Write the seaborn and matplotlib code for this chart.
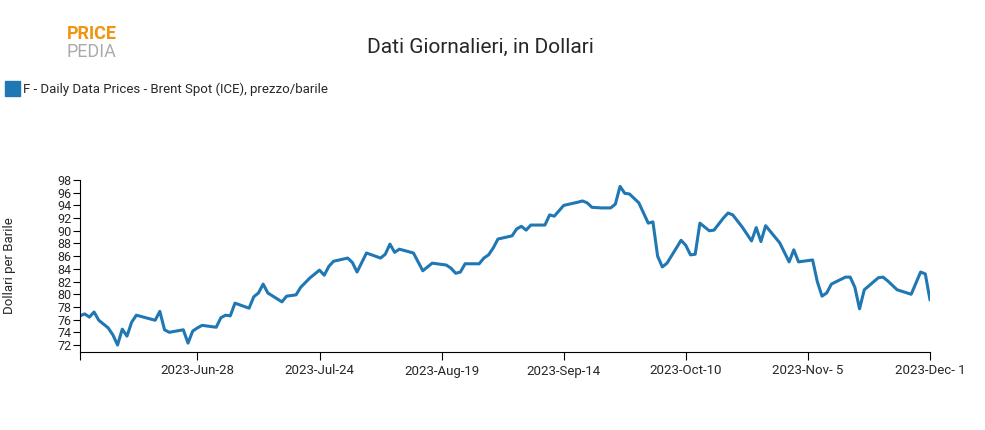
import matplotlib
matplotlib.use("Agg")
import matplotlib.pyplot as plt
import seaborn as sns
import pandas as pd

start_date = "2023-06-03"
day_offsets = [0, 1, 2, 3, 4, 6, 7, 8, 9, 10, 11, 12, 16, 17, 18, 19, 22, 23, 24, 25, 26, 29, 30, 31, 32, 33,
               36, 37, 38, 39, 40, 43, 44, 46, 47, 49, 51, 52, 53, 54, 57, 58, 59, 60, 61, 64, 65, 66, 67, 68,
               71, 72, 73, 75, 78, 79, 80, 81, 82, 85, 86, 87, 88, 89, 92, 93, 94, 95, 96, 99, 100, 101, 103,
               106, 107, 108, 109, 111, 113, 114, 115, 116, 117, 119, 121, 122, 123, 124, 125, 128, 129, 130,
               131, 132, 134, 135, 137, 138, 139, 141, 143, 144, 145, 146, 149, 151, 152, 153, 156, 157, 158,
               159, 160, 163, 164, 165, 166, 167, 170, 171, 172, 174, 177, 179, 180, 181]
prices = [76.6, 76.9, 76.4, 77.2, 75.9, 74.7, 73.6, 72.0, 74.5, 73.4, 75.6, 76.7, 75.9, 77.3, 74.4, 74.0, 74.4,
          72.3, 74.2, 74.7, 75.1, 74.8, 76.3, 76.7, 76.6, 78.6, 77.8, 79.6, 80.2, 81.6, 80.2, 78.8, 79.7,
          79.9, 81.1, 82.6, 83.8, 83.0, 84.4, 85.2, 85.7, 85.0, 83.5, 85.0, 86.5, 85.7, 86.3, 87.9, 86.6,
          87.1, 86.5, 85.1, 83.7, 84.9, 84.6, 84.1, 83.3, 83.5, 84.8, 84.8, 85.7, 86.2, 87.3, 88.7, 89.2,
          90.3, 90.7, 90.1, 90.9, 90.9, 92.5, 92.3, 94.0, 94.5, 94.7, 94.4, 93.7, 93.6, 93.6, 94.2, 97.0,
          95.9, 95.8, 94.4, 91.2, 91.4, 86.0, 84.3, 84.9, 88.5, 87.7, 86.2, 86.3, 91.2, 90.0, 90.1, 92.0,
          92.8, 92.5, 90.6, 88.4, 90.5, 88.3, 90.8, 88.1, 85.1, 87.0, 85.1, 85.4, 82.0, 79.7, 80.2, 81.6,
          82.7, 82.7, 81.1, 77.7, 80.7, 82.6, 82.7, 82.1, 80.7, 80.0, 83.5, 83.2, 79.1]
tick_dates = ["2023-06-03", "2023-06-28", "2023-07-24", "2023-08-19", "2023-09-14", "2023-10-10",
              "2023-11-05", "2023-12-01"]
tick_labels = ["", "2023-Jun-28", "2023-Jul-24", "2023-Aug-19", "2023-Sep-14", "2023-Oct-10",
               "2023-Nov- 5", "2023-Dec- 1"]
y_ticks = list(range(72, 99, 2))

df = pd.DataFrame({"date": pd.Timestamp(start_date) + pd.to_timedelta(day_offsets, unit="D"),
                   "price": prices})

sns.set_style("ticks")
plt.rcParams["font.family"] = "Roboto"
fig = plt.figure(figsize=(9.85, 4.3), dpi=100)
ax = fig.add_axes([80 / 985, 1 - 352 / 430, 850 / 985, 172 / 430])
sns.lineplot(data=df, x="date", y="price", ax=ax, color="#1f77b4", linewidth=2.2)

ax.set_xlim(pd.Timestamp(tick_dates[0]), pd.Timestamp(tick_dates[-1]))
ax.set_ylim(70.9, 98)
ax.set_xticks(pd.to_datetime(tick_dates))
ax.set_xticklabels(tick_labels, fontsize=9.5)
ax.set_yticks(y_ticks)
ax.set_yticklabels([str(v) for v in y_ticks], fontsize=9)
ax.tick_params(axis="x", length=6, color="black", pad=3)
ax.tick_params(axis="y", length=5, color="black", pad=1)
ax.set_xlabel("")
ax.set_ylabel("Dollari per Barile", fontsize=9.5)
ax.yaxis.set_label_coords(-64 / 850, 0.5)
for s in ["top", "right"]:
    ax.spines[s].set_visible(False)
for s in ["left", "bottom"]:
    ax.spines[s].set_color("black")
    ax.spines[s].set_linewidth(0.8)

fig.text(480 / 985, 1 - 47 / 430, "Dati Giornalieri, in Dollari", ha="center", va="center", fontsize=15)
fig.patches.append(plt.Rectangle((5 / 985, 1 - 96 / 430), 15 / 985, 15 / 430, color="#1f77b4",
                                 transform=fig.transFigure, figure=fig))
fig.text(23 / 985, 1 - 89 / 430, "F - Daily Data Prices - Brent Spot (ICE), prezzo/barile",
         ha="left", va="center", fontsize=9.5)
fig.text(67 / 985, 1 - 34 / 430, "PRICE", color="#f0950f", fontsize=13, fontweight="bold", va="center")
fig.text(67 / 985, 1 - 52 / 430, "PEDIA", color="#aaaaaa", fontsize=13, va="center")

fig.savefig("out.png", dpi=100)
